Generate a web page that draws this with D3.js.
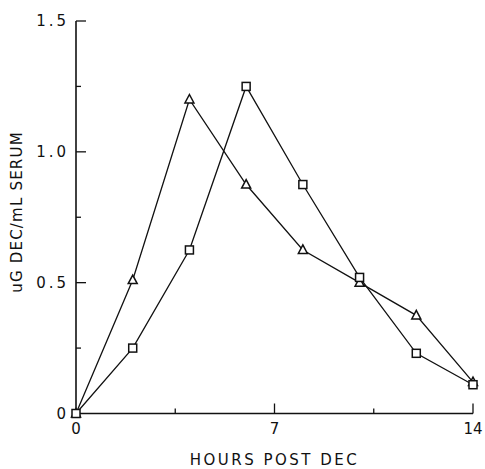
<!DOCTYPE html>
<html>
<head>
<meta charset="utf-8">
<script src="https://cdn.jsdelivr.net/npm/d3@7"></script>
<style>
  body { margin: 0; background: #fff; }
  text { font-family: "DejaVu Sans", sans-serif; fill: #111; }
</style>
</head>
<body>
<div id="chart"></div>
<script>
// data
const hours = [0, 2, 4, 6, 8, 10, 12, 14];
const triangleSeries = [0, 0.51, 1.2, 0.875, 0.625, 0.5, 0.375, 0.12];
const squareSeries = [0, 0.25, 0.625, 1.25, 0.875, 0.52, 0.23, 0.11];
const xTickLabels = [0, 7, 14];
const yTickLabels = [0, 0.5, 1.0, 1.5];

const W = 485, H = 469;
const margin = {top: 21, right: 12, bottom: 56, left: 76};

const svg = d3.select("#chart").append("svg")
    .attr("width", W).attr("height", H);

const x = d3.scaleLinear().domain([0, 14]).range([margin.left, 473]);
const y = d3.scaleLinear().domain([0, 1.5]).range([413.5, margin.top]);

const ink = "#111";

// axes lines
svg.append("line").attr("x1", x(0)).attr("x2", x(14)).attr("y1", y(0)).attr("y2", y(0))
    .attr("stroke", ink).attr("stroke-width", 1.6);
svg.append("line").attr("x1", x(0)).attr("x2", x(0)).attr("y1", y(0)).attr("y2", y(1.5))
    .attr("stroke", ink).attr("stroke-width", 1.6);

// x ticks (inward, pointing up)
[3.5, 7, 10.5, 14].forEach(v => {
  const len = (v % 7 === 0) ? 10 : 5;
  svg.append("line").attr("x1", x(v)).attr("x2", x(v)).attr("y1", y(0)).attr("y2", y(0) - len)
      .attr("stroke", ink).attr("stroke-width", 1.3);
});
// y ticks (inward, pointing right)
[0.25, 0.5, 0.75, 1.0, 1.25, 1.5].forEach(v => {
  const major = Math.abs(v * 2 - Math.round(v * 2)) < 1e-6;
  const len = major ? 10 : 5;
  svg.append("line").attr("x1", x(0)).attr("x2", x(0) + len).attr("y1", y(v)).attr("y2", y(v))
      .attr("stroke", ink).attr("stroke-width", 1.3);
});

// tick labels
svg.selectAll(".xl").data(xTickLabels).enter().append("text")
    .attr("x", d => x(d)).attr("y", y(0) + 20)
    .attr("text-anchor", "middle").attr("font-size", 15)
    .text(d => d);
svg.selectAll(".yl").data(yTickLabels).enter().append("text")
    .attr("x", x(0) - 7).attr("y", d => y(d) + 5)
    .attr("text-anchor", "end").attr("font-size", 15)
    .attr("letter-spacing", 3)
    .text(d => d === 0 ? "0" : d.toFixed(1));

// axis titles
svg.append("text")
    .attr("x", x(7)).attr("y", 465)
    .attr("text-anchor", "middle").attr("font-size", 15)
    .attr("letter-spacing", 2.5)
    .text("HOURS POST DEC");
svg.append("text")
    .attr("transform", `translate(22, 212) rotate(-90)`)
    .attr("text-anchor", "middle").attr("font-size", 15)
    .attr("letter-spacing", 1.2)
    .text("uG DEC/mL SERUM");

// lines
const line = d3.line().x(d => x(d[0])).y(d => y(d[1]));
const triData = hours.map((h, i) => [h, triangleSeries[i]]);
const sqData = hours.map((h, i) => [h, squareSeries[i]]);

[triData, sqData].forEach(data => {
  svg.append("path").datum(data).attr("d", line)
      .attr("fill", "none").attr("stroke", ink).attr("stroke-width", 1.3);
});

// markers
svg.selectAll(".tri").data(triData).enter().append("path")
    .attr("transform", d => `translate(${x(d[0])},${y(d[1])})`)
    .attr("d", "M0,-5 L4.5,3.5 L-4.5,3.5 Z")
    .attr("fill", "#fff").attr("stroke", ink).attr("stroke-width", 1.5);
svg.selectAll(".sq").data(sqData).enter().append("rect")
    .attr("x", d => x(d[0]) - 4).attr("y", d => y(d[1]) - 4)
    .attr("width", 8).attr("height", 8)
    .attr("fill", "#fff").attr("stroke", ink).attr("stroke-width", 1.5);
</script>
</body>
</html>
